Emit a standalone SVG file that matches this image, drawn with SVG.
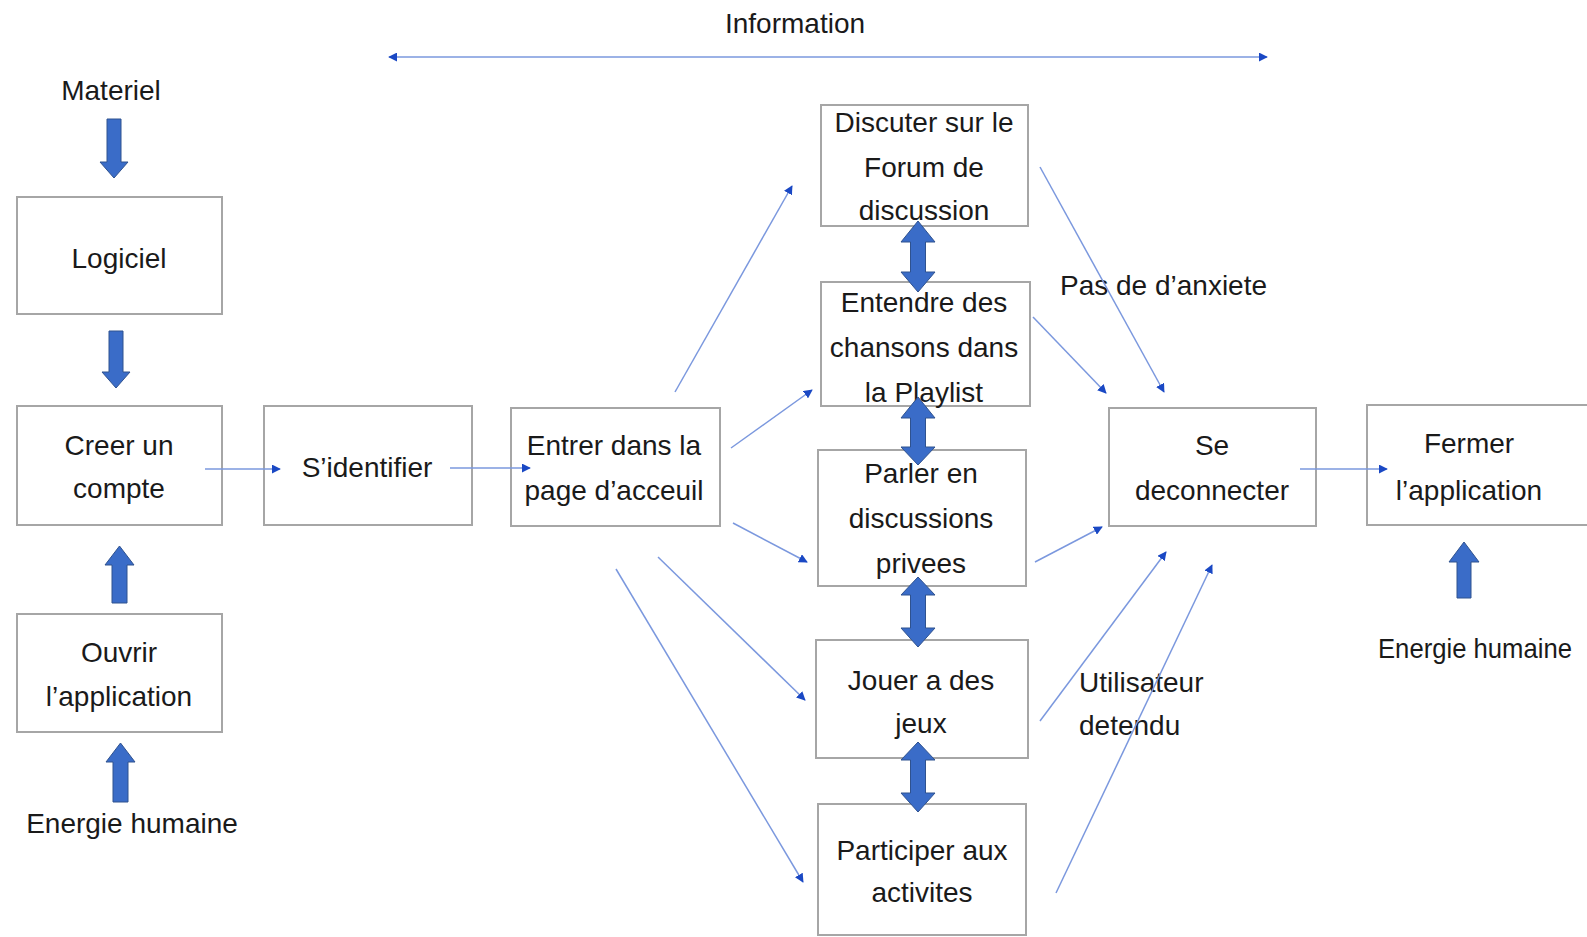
<svg xmlns="http://www.w3.org/2000/svg" width="1587" height="937" viewBox="0 0 1587 937">
<defs>
<marker id="ah" viewBox="0 0 10 10" refX="9" refY="5" markerWidth="9" markerHeight="9" markerUnits="userSpaceOnUse" orient="auto-start-reverse">
<path d="M0,0 L10,5 L0,10 Z" fill="#1a48c4"/>
</marker>
<style>
.box{fill:#ffffff;stroke:#a6a6a6;stroke-width:2}
.t{font-family:"Liberation Sans",Arial,sans-serif;font-size:28px;fill:#1a1a1a;text-anchor:middle}
.ts{font-family:"Liberation Sans",Arial,sans-serif;font-size:28px;fill:#1a1a1a;text-anchor:start}
.ln{stroke:#7b98de;stroke-width:1.5;fill:none;marker-end:url(#ah)}
.blk{fill:#3a6cc8;stroke:#2f528f;stroke-width:1}
</style>
</defs>
<rect width="1587" height="937" fill="#ffffff"/>

<g id="information">
<text class="t" x="795" y="33">Information</text>
</g>

<g id="materiel">
<text class="t" x="111" y="100">Materiel</text>
<path class="blk" d="M107,119 H121 V162 H128 L114,178 L100,162 H107 Z"/>
</g>

<g id="logiciel">
<rect class="box" x="17" y="197" width="205" height="117"/>
<text class="t" x="119" y="268">Logiciel</text>
<path class="blk" d="M109,331 H123 V372 H130 L116,388 L102,372 H109 Z"/>
</g>

<g id="creer">
<rect class="box" x="17" y="406" width="205" height="119"/>
<text class="t" x="119" y="455">Creer un</text>
<text class="t" x="119" y="498">compte</text>
</g>

<g id="ouvrir">
<path class="blk" d="M112,603 V565 H105 L119.5,546 L134,565 H127 V603 Z"/>
<rect class="box" x="17" y="614" width="205" height="118"/>
<text class="t" x="119" y="662">Ouvrir</text>
<text class="t" x="119" y="706">l’application</text>
</g>

<g id="energie1">
<path class="blk" d="M113,802 V762 H106 L120.5,743 L135,762 H128 V802 Z"/>
<text class="t" x="132" y="833">Energie humaine</text>
</g>

<g id="sidentifier">
<rect class="box" x="264" y="406" width="208" height="119"/>
<text class="t" x="367" y="477">S’identifier</text>
</g>

<g id="entrer">
<rect class="box" x="511" y="408" width="209" height="118"/>
<text class="t" x="614" y="455">Entrer dans la</text>
<text class="t" x="614" y="500">page d’acceuil</text>
</g>

<g id="discuter">
<rect class="box" x="821" y="105" width="207" height="121"/>
<text class="t" x="924" y="132">Discuter sur le</text>
<text class="t" x="924" y="177">Forum de</text>
<text class="t" x="924" y="220">discussion</text>
</g>

<g id="entendre">
<rect class="box" x="821" y="282" width="209" height="124"/>
<text class="t" x="924" y="312">Entendre des</text>
<text class="t" x="924" y="357">chansons dans</text>
<text class="t" x="924" y="402">la Playlist</text>
</g>

<g id="parler">
<rect class="box" x="818" y="450" width="208" height="136"/>
<text class="t" x="921" y="483">Parler en</text>
<text class="t" x="921" y="528">discussions</text>
<text class="t" x="921" y="573">privees</text>
</g>

<g id="jouer">
<rect class="box" x="816" y="640" width="212" height="118"/>
<text class="t" x="921" y="690">Jouer a des</text>
<text class="t" x="921" y="733">jeux</text>
</g>

<g id="participer">
<rect class="box" x="818" y="804" width="208" height="131"/>
<text class="t" x="922" y="860">Participer aux</text>
<text class="t" x="922" y="902">activites</text>
</g>

<g id="double-arrows">
<path class="blk" d="M918,221 L935,242 H925.5 V272 H935 L918,292 L901,272 H910.5 V242 H901 Z"/>
<path class="blk" d="M918,397 L935,418 H925.5 V447 H935 L918,465 L901,447 H910.5 V418 H901 Z"/>
<path class="blk" d="M918,577 L935,595 H925.5 V628 H935 L918,647 L901,628 H910.5 V595 H901 Z"/>
<path class="blk" d="M918,742 L935,760 H925.5 V793 H935 L918,812 L901,793 H910.5 V760 H901 Z"/>
</g>

<g id="pas-anxiete">
<text class="ts" x="1060" y="295">Pas de d’anxiete</text>
</g>

<g id="utilisateur">
<text class="ts" x="1079" y="692">Utilisateur</text>
<text class="ts" x="1079" y="735">detendu</text>
</g>

<g id="deconnecter">
<rect class="box" x="1109" y="408" width="207" height="118"/>
<text class="t" x="1212" y="455">Se</text>
<text class="t" x="1212" y="500">deconnecter</text>
</g>

<g id="fermer">
<rect class="box" x="1367" y="405" width="240" height="120"/>
<text class="t" x="1469" y="453">Fermer</text>
<text class="t" x="1469" y="500">l’application</text>
</g>

<g id="energie2">
<path class="blk" d="M1457,598 V562 H1449 L1464,542 L1479,562 H1471 V598 Z"/>
<text class="ts" x="1378" y="658" textLength="194" lengthAdjust="spacingAndGlyphs">Energie humaine</text>
</g>

<g id="connectors">
<line class="ln" x1="389" y1="57" x2="1267" y2="57" style="marker-start:url(#ah)"/>
<line class="ln" x1="205" y1="469" x2="280" y2="469"/>
<line class="ln" x1="450" y1="468" x2="530" y2="468"/>
<line class="ln" x1="675" y1="392" x2="792" y2="186"/>
<line class="ln" x1="731" y1="448" x2="812" y2="390"/>
<line class="ln" x1="733" y1="523" x2="807" y2="562"/>
<line class="ln" x1="658" y1="557" x2="805" y2="700"/>
<line class="ln" x1="616" y1="569" x2="803" y2="882"/>
<line class="ln" x1="1040" y1="167" x2="1164" y2="392"/>
<line class="ln" x1="1033" y1="317" x2="1106" y2="393"/>
<line class="ln" x1="1035" y1="562" x2="1102" y2="527"/>
<line class="ln" x1="1040" y1="721" x2="1166" y2="552"/>
<line class="ln" x1="1056" y1="893" x2="1212" y2="565"/>
<line class="ln" x1="1300" y1="469" x2="1387" y2="469"/>
</g>
</svg>
